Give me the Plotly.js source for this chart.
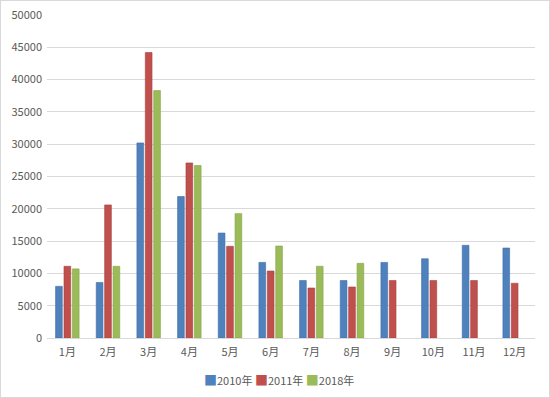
<!DOCTYPE html>
<html>
<head>
<meta charset="utf-8">
<script src="https://cdn.plot.ly/plotly-3.0.1.min.js"></script>
<style>
html,body{margin:0;padding:0;background:#fff;}
#chart{width:548px;height:396px;border:1px solid #d9d9d9;}
</style>
</head>
<body>
<div id="chart"></div>
<script>
const months = ['1月','2月','3月','4月','5月','6月','7月','8月','9月','10月','11月','12月'];
const seriesNames = ['2010年','2011年','2018年'];
const v2010 = [8000, 8600, 30200, 21900, 16250, 11700, 8900, 8900, 11700, 12270, 14350, 13930];
const v2011 = [11100, 20600, 44200, 27100, 14200, 10370, 7740, 7900, 8900, 8900, 8900, 8470];
const v2018 = [10700, 11100, 38300, 26700, 19250, 14240, 11100, 11560, null, null, null, null];
const colors = ['#4F81BD', '#C0504D', '#9BBB59'];
const lineColors = ['#3f6fa8', '#a8403d', '#86a348'];

const vals = [v2010, v2011, v2018];
const data = vals.map((v, i) => ({
  type: 'bar',
  x: months,
  y: v,
  name: seriesNames[i],
  marker: {color: colors[i], line: {color: lineColors[i], width: 0.6}},
  hoverinfo: 'x+y+name',
  showlegend: false
}));

const font = {family: '"Noto Sans CJK SC", "Noto Sans", sans-serif', size: 11, color: '#595959'};

// legend drawn as text with coloured squares
const legendText = seriesNames.map((n, i) =>
  '<span style="color:' + colors[i] + ';font-size:13px">■</span>' + n).join(' ');

const layout = {
  width: 548, height: 396,
  margin: {l: 46, r: 14, t: 14, b: 59},
  paper_bgcolor: '#ffffff',
  plot_bgcolor: '#ffffff',
  font: font,
  barmode: 'group',
  bargap: 0.38,
  bargroupgap: 0.2,
  showlegend: false,
  annotations: [{
    text: legendText,
    xref: 'paper', yref: 'paper',
    x: 0.475, y: -0.128, xanchor: 'center', yanchor: 'middle',
    showarrow: false,
    font: font
  }],
  xaxis: {
    type: 'category',
    showgrid: false,
    showline: true, linecolor: '#d9d9d9', linewidth: 1,
    ticks: '', tickfont: font,
    ticklabelstandoff: 4,
    fixedrange: true
  },
  yaxis: {
    range: [0, 50000],
    dtick: 5000,
    tickformat: 'd',
    showgrid: true, gridcolor: '#d9d9d9', gridwidth: 1,
    zeroline: false,
    showline: false,
    ticks: '', tickfont: font,
    ticklabelstandoff: 4,
    fixedrange: true
  }
};
Plotly.newPlot('chart', data, layout, {displayModeBar: false, staticPlot: true});
</script>
</body>
</html>
